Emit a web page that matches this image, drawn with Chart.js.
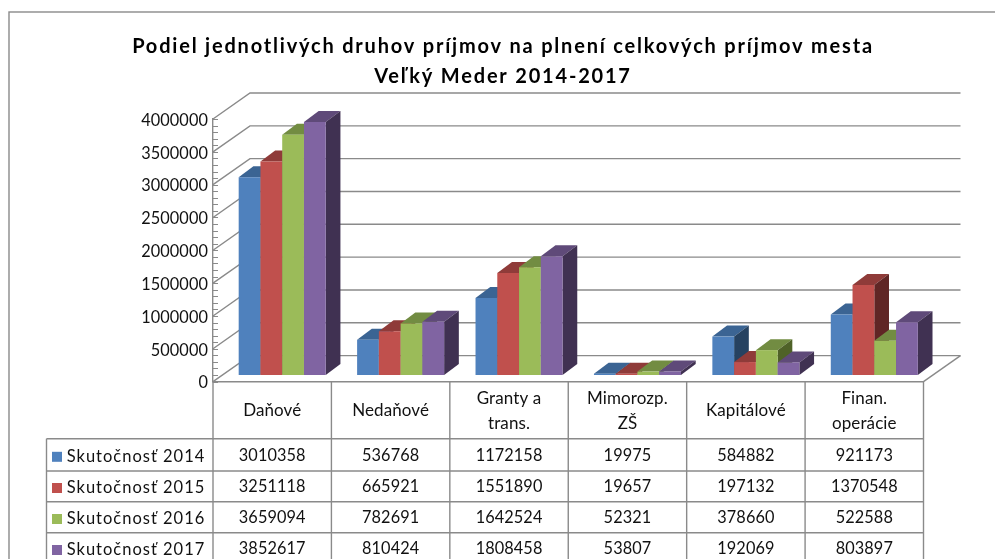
<!DOCTYPE html>
<html>
<head>
<meta charset="utf-8">
<script src="https://cdn.jsdelivr.net/npm/chart.js@4"></script>
<style>html,body{margin:0;padding:0;background:#fff;overflow:hidden}canvas{display:block}</style>
</head>
<body>
<canvas id="c" width="995" height="559"></canvas>
<script>
const chartTitle = ["Podiel jednotlivých druhov príjmov na plnení celkových príjmov mesta", "Veľký Meder 2014-2017"];
const categories = [["Daňové"], ["Nedaňové"], ["Granty a", "trans."], ["Mimorozp.", "ZŠ"], ["Kapitálové"], ["Finan.", "operácie"]];
const seriesNames = ["Skutočnosť 2014", "Skutočnosť 2015", "Skutočnosť 2016", "Skutočnosť 2017"];
const values2014 = [3010358, 536768, 1172158, 19975, 584882, 921173];
const values2015 = [3251118, 665921, 1551890, 19657, 197132, 1370548];
const values2016 = [3659094, 782691, 1642524, 52321, 378660, 522588];
const values2017 = [3852617, 810424, 1808458, 53807, 192069, 803897];
const allValues = [values2014, values2015, values2016, values2017];
const frontColors = ["#4F81BD", "#C0504D", "#9BBB59", "#8064A2"];
const topColors = ["#3B6493", "#8F3B39", "#728C42", "#5F4A79"];
const sideColors = ["#264261", "#602625", "#4F6228", "#403152"];

const LINE = "#8A8A8A";
const DEPTH_X = 37, DEPTH_Y = 26;      // wall depth
const BAR_DX = 10, BAR_DY = 6.6;       // bars stand inside the floor
const BAR_DEPTH_X = 14.7, BAR_DEPTH_Y = 11;
const rowLines = [438.7, 471, 501.7, 532.7];
const rowText = [454.3, 485.5, 516.5, 547.5];
const legendLeft = 46.5;

const threeD = {
  id: "threeD",
  beforeDraw(chart) {
    const ctx = chart.ctx;
    ctx.save();
    ctx.fillStyle = "#fff";
    ctx.fillRect(0, 0, chart.width, chart.height);
    ctx.strokeStyle = LINE;
    ctx.lineWidth = 1.4;
    ctx.strokeRect(9, 12, 1100, 700);
    ctx.restore();
    ctx.letterSpacing = "0.1px";
  },
  afterLayout(chart) {
    const box = chart.titleBlock, orig = box.draw;
    if (box._wrapped) return;
    box._wrapped = true;
    box.draw = function () {
      const c = chart.ctx, prev = c.letterSpacing;
      c.letterSpacing = "1.8px";
      orig.apply(box, arguments);
      c.letterSpacing = prev;
    };
  },
  beforeDatasetsDraw(chart) {
    const ctx = chart.ctx, y = chart.scales.y, x = chart.scales.x;
    const area = chart.chartArea;
    ctx.save();
    ctx.strokeStyle = LINE;
    ctx.lineWidth = 1.4;
    // back wall grid, side wall diagonals, floor
    y.ticks.forEach(t => {
      const py = y.getPixelForValue(t.value);
      ctx.beginPath();
      ctx.moveTo(area.left, py);
      ctx.lineTo(area.left + DEPTH_X, py - DEPTH_Y);
      ctx.lineTo(area.right + DEPTH_X, py - DEPTH_Y);
      ctx.stroke();
    });
    ctx.beginPath();
    ctx.moveTo(area.right, area.bottom);
    ctx.lineTo(area.right + DEPTH_X, area.bottom - DEPTH_Y);
    ctx.stroke();
    // minor ticks
    ctx.lineWidth = 1;
    const minor = 100000;
    for (let v = 0; v <= y.max; v += minor) {
      const py = Math.round(y.getPixelForValue(v)) + 0.5;
      ctx.beginPath();
      ctx.moveTo(area.left, py);
      ctx.lineTo(area.left + 5, py);
      ctx.stroke();
    }
    ctx.restore();

    // bars: sides of each one first, then the library's own front faces
    ctx.save();
    ctx.translate(BAR_DX, -BAR_DY);
    for (let i = 0; i < allValues.length; i++) {
      const meta = chart.getDatasetMeta(i);
      meta.data.forEach(el => {
        const l = el.x - el.width / 2, r = el.x + el.width / 2, t = el.y, b = el.base;
        ctx.fillStyle = topColors[i];
        ctx.beginPath();
        ctx.moveTo(l, t);
        ctx.lineTo(l + BAR_DEPTH_X, t - BAR_DEPTH_Y);
        ctx.lineTo(r + BAR_DEPTH_X, t - BAR_DEPTH_Y);
        ctx.lineTo(r, t);
        ctx.closePath();
        ctx.fill();
        ctx.fillStyle = sideColors[i];
        ctx.beginPath();
        ctx.moveTo(r, t);
        ctx.lineTo(r + BAR_DEPTH_X, t - BAR_DEPTH_Y);
        ctx.lineTo(r + BAR_DEPTH_X, b - BAR_DEPTH_Y);
        ctx.lineTo(r, b);
        ctx.closePath();
        ctx.fill();
      });
      meta.controller.draw();
    }
    ctx.restore();

    // data table
    ctx.save();
    ctx.strokeStyle = LINE;
    ctx.lineWidth = 1.4;
    const half = (x.getPixelForValue(1) - x.getPixelForValue(0)) / 2;
    for (let c = 0; c <= categories.length; c++) {
      const px = x.getPixelForValue(0) - half + c * 2 * half;
      ctx.beginPath();
      ctx.moveTo(px, area.bottom);
      ctx.lineTo(px, chart.height);
      ctx.stroke();
    }
    ctx.beginPath();
    ctx.moveTo(legendLeft, rowLines[0]);
    ctx.lineTo(legendLeft, chart.height);
    ctx.stroke();
    rowLines.forEach(ry => {
      ctx.beginPath();
      ctx.moveTo(legendLeft, ry);
      ctx.lineTo(area.right, ry);
      ctx.stroke();
    });
    ctx.fillStyle = "#111";
    ctx.font = "16.3px Lato";
    ctx.textBaseline = "middle";
    ctx.textAlign = "center";
    ctx.letterSpacing = "0.1px";
    allValues.forEach((vals, r) => {
      vals.forEach((v, c) => ctx.fillText(String(v), x.getPixelForValue(c), rowText[r] + 1.5));
    });
    ctx.textAlign = "left";
    ctx.letterSpacing = "1px";
    ctx.font = "16.5px Lato";
    seriesNames.forEach((name, r) => {
      ctx.fillStyle = frontColors[r];
      ctx.fillRect(52, rowText[r] - 2.5, 10, 10);
      ctx.fillStyle = "#111";
      ctx.fillText(name, 66.7, rowText[r] + 2);
    });
    ctx.restore();
    return false;
  }
};

new Chart(document.getElementById("c"), {
  type: "bar",
  plugins: [threeD],
  data: {
    labels: categories,
    datasets: seriesNames.map((n, i) => ({
      label: n,
      data: allValues[i],
      backgroundColor: frontColors[i],
      borderWidth: 0,
      categoryPercentage: 0.735,
      barPercentage: 1
    }))
  },
  options: {
    responsive: false,
    animation: false,
    events: [],
    layout: { padding: { left: 82.5, right: 71.5, top: 0, bottom: 0 } },
    plugins: {
      legend: { display: false },
      tooltip: { enabled: false },
      title: {
        display: true,
        text: chartTitle,
        color: "#000",
        font: { family: "Lato", size: 20, weight: "bold", lineHeight: 30 / 20 },
        padding: { top: 32, bottom: 27 }
      }
    },
    scales: {
      x: {
        afterFit(a) { a.height = 559 - 381.6; },
        grid: { display: false, drawTicks: false },
        border: { display: true, color: LINE, width: 1.4 },
        ticks: {
          color: "#111", maxRotation: 0, autoSkip: false, crossAlign: "center", padding: 17,
          font: { family: "Lato", size: 17, lineHeight: 24.5 / 17 }
        }
      },
      y: {
        min: 0, max: 4000000,
        afterFit(a) { a.width = 130.5; },
        grid: { display: false, drawTicks: false },
        border: { display: true, color: LINE, width: 1.4 },
        ticks: {
          stepSize: 500000, color: "#111", padding: 5, labelOffset: 1.5,
          font: { family: "Lato", size: 16.3 },
          callback: v => String(v)
        }
      }
    }
  }
});
</script>
</body>
</html>
